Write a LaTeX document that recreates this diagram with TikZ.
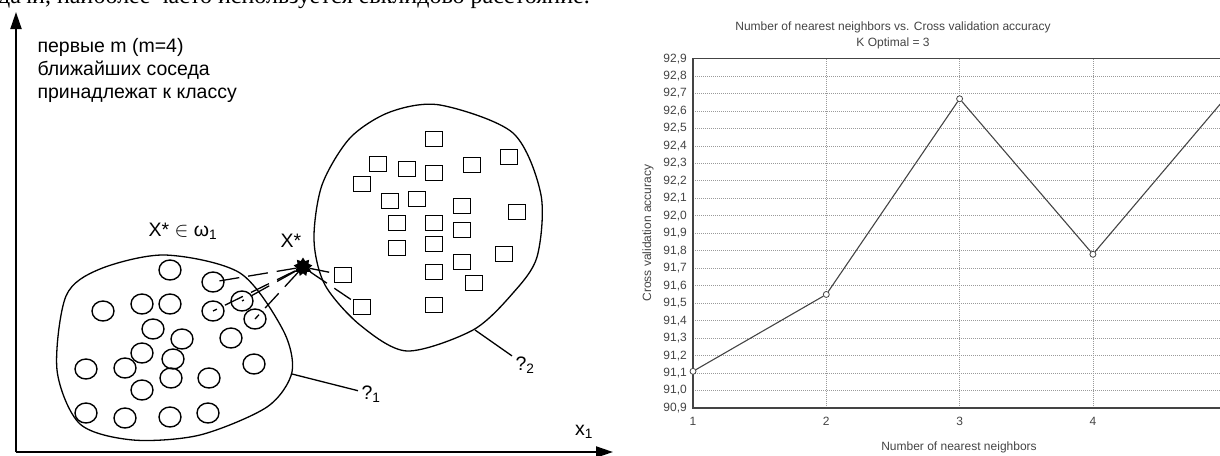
\documentclass[tikz,border=0pt]{standalone}
\usepackage{fontspec}
\setmainfont{Liberation Sans}
\newfontfamily\bodyfont{Liberation Serif}
\usetikzlibrary{arrows.meta,shapes.geometric,positioning}
\definecolor{chartgray}{HTML}{444444}
\definecolor{gridgray}{HTML}{9A9A9A}
\tikzset{
  axis/.style    = {line width=2pt, -{Triangle[length=17pt,width=11pt]}},
  blob/.style    = {line width=1.3pt},
  circ/.style    = {ellipse, draw, line width=1.4pt, minimum width=22pt,
                    minimum height=20pt, inner sep=0pt},
  sqr/.style     = {rectangle, draw, line width=1.6pt, minimum width=17pt,
                    minimum height=15pt, inner sep=0pt},
  query/.style   = {star, star points=9, star point ratio=1.5, fill=black,
                    minimum size=19pt, inner sep=0pt},
  nbr/.style     = {line width=1.3pt, dash pattern=on 20pt off 9pt},
  lbl/.style     = {font=\fontsize{19.5}{23}\selectfont},
  body/.style    = {font=\bodyfont\fontsize{24}{28}\selectfont, inner sep=0pt},
  title/.style   = {font=\fontsize{12}{14}\selectfont, text=chartgray, inner sep=1pt},
  ticklbl/.style = {font=\fontsize{12}{14}\selectfont, text=chartgray, inner sep=1pt},
  gridln/.style  = {gridgray, line width=0.8pt, dash pattern=on 1pt off 1pt},
  plotframe/.style = {chartgray, line width=1.2pt},
  mk/.style      = {circle, draw=chartgray, fill=white, line width=0.8pt,
                    minimum size=6pt, inner sep=0pt},
  dataln/.style  = {chartgray, line width=1.1pt},
}

\begin{document}
\begin{tikzpicture}[x=1pt,y=-1pt]
  \useasboundingbox (0,0) rectangle (1220,455);
  \clip (0,0) rectangle (1220,455);
  % cut-off line of the page text
  \node[body,anchor=base west] (top) at (-2,4) {дачи, наиболее часто используется евклидово расстояние.};

  % axes
  \coordinate (o) at (16,452);
  \coordinate (yend) at (16,12);
  \coordinate (xend) at (613,452);
  \draw[axis] (o) -- (yend);
  \draw[axis] (o) -- (xend);
  \node[lbl] (x1l) at (584,432) {x\textsubscript{1}};
  \node[lbl,anchor=west,align=left] (txt) at (34,70)
    {первые m (m=4)\\ближайших соседа\\принадлежат к классу};

  % class 1
  \draw[blob] plot[smooth cycle] coordinates {(57,370) (66,296) (100,269) (165,255)
    (240,273) (283,330) (292,372) (267,407) (200,435) (133,440) (80,424)};
  \foreach \x/\y [count=\i] in {103/311,142/304,170/304,213/311,242/301,255/319,
      153/329,182/339,231/338,142/353,173/359,86/369,125/368,254/364,171/378,
      209/378,142/390,86/413,125/418,170/417,208/413,170/270,213/282}
    \node[circ] (c\i) at (\x,\y) {};

  % class 2
  \draw[blob] plot[smooth cycle] coordinates {(440,105) (513,133) (541,195)
    (537,257) (513,293) (473,330) (407,351) (360,325) (325,285) (314,240)
    (322,185) (350,138) (390,112)};
  \foreach \x/\y [count=\i] in {434/139,378/164,407/169,434/173,472/165,509/157,
      362/184,390/201,417/199,462/206,517/212,397/223,434/223,462/230,397/248,
      434/244,504/254,343/275,462/262,434/272,474/283,362/307,434/305}
    \node[sqr] (s\i) at (\x,\y) {};

  % query point and its neighbours
  \node[query] (xs) at (303,267) {};
  \foreach \c in {c23,c5,c4,c6}
    \draw[nbr] (xs) -- (\c.center);
  \foreach \s in {s18,s22}
    \draw[nbr] (xs) -- (\s);
  \node[lbl] (om1) at (183,231) {X* $\in$ ω\textsubscript{1}};
  \node[lbl] (xsl) at (291,241) {X*};

  \coordinate (b1) at (292,374);
  \node[lbl,anchor=west] (q1) at (358,394) {?\textsubscript{1}};
  \draw[blob] (b1) -- (q1);
  \coordinate (b2) at (475,330);
  \node[lbl,anchor=west] (q2) at (512,365) {?\textsubscript{2}};
  \draw[blob] (b2) -- (q2);

  % chart
  \node[title] (ttl) at (893,27) {Number of nearest neighbors vs. Cross validation accuracy};
  \node[title] (kopt) at (893,43) {K Optimal = 3};
  \node[title,rotate=90] (ylab) at (648,233) {Cross validation accuracy};
  \node[title] (xlab) at (959,447) {Number of nearest neighbors};
  \begin{scope}[shift={(693,408)},x=133.3pt,y=174.7pt]
    \foreach \i in {1,...,19}
      \draw[gridln] (0,\i/10) -- (4,\i/10);
    \foreach \k in {1,2,3}
      \draw[gridln] (\k,0) -- (\k,2);
    \draw[plotframe] (4,2) -- (0,2) -- (0,0) -- (4,0);
    \foreach \i in {0,...,20} {
      \pgfmathtruncatemacro\ia{(909+\i)/10}
      \pgfmathtruncatemacro\ib{mod(909+\i,10)}
      \node[ticklbl,anchor=east,xshift=-5pt] (yl\i) at (0,\i/10) {\ia,\ib};
    }
    \foreach \k in {1,...,4}
      \node[ticklbl,anchor=north,yshift=-8pt] (xl\k) at (\k-1,0) {\k};
    \foreach \k/\v in {1/91.11,2/91.55,3/92.67,4/91.78,5/92.68}
      \node[mk] (p\k) at (\k-1,\v-90.9) {};
    \draw[dataln] (p1) -- (p2) -- (p3) -- (p4) -- (p5);
  \end{scope}
\end{tikzpicture}
\end{document}
